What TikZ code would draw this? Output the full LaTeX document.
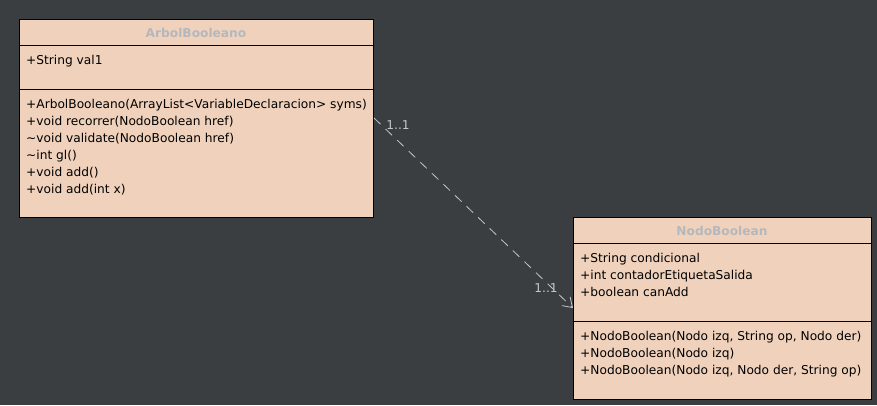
\documentclass[tikz,border=0pt]{standalone}
\usepackage{fontspec}
\setmainfont{DejaVu Sans}
\usepackage{tikz}
\usetikzlibrary{positioning, arrows.meta}
\usepackage{xcolor}
\definecolor{fondo}{HTML}{3B3E41}
\definecolor{relleno}{HTML}{F0D2BC}
\definecolor{gristitulo}{HTML}{B4B8BC}
\definecolor{grislinea}{HTML}{C4C6C8}

\begin{document}
\begin{tikzpicture}[x=1pt, y=1pt, font=\fontsize{12.2}{14}\selectfont,
    clase/.style={draw=black, fill=relleno, line width=1pt, anchor=north west, inner sep=0pt},
    titulo/.style={font=\fontsize{12.2}{14}\selectfont\bfseries, text=gristitulo, anchor=base},
    miembro/.style={anchor=base west, inner sep=0pt, text=black},
    etiqueta/.style={text=grislinea, anchor=base, inner sep=0pt}]
        % Fondo
        \fill[fondo] (0, 0) rectangle (877, -405);
        \useasboundingbox (0, 0) rectangle (877, -405);

        % Clase ArbolBooleano
        \node[clase, minimum width=354pt, minimum height=198pt] (arbol) at (19, -19) {};
        \draw[line width=0.8pt] (arbol.west |- 0, -45) -- (arbol.east |- 0, -45);
        \draw[line width=0.8pt] (arbol.west |- 0, -89) -- (arbol.east |- 0, -89);
        \node[titulo] (arbolT) at (196, -37) {ArbolBooleano};
        \node[miembro] (arbolA1) at (26, -64) {+String val1};
        \foreach \t [count=\i] in {{+ArbolBooleano(ArrayList<VariableDeclaracion> syms)},
            {+void recorrer(NodoBoolean href)}, {\textasciitilde void validate(NodoBoolean href)},
            {\textasciitilde int gl()}, {+void add()}, {+void add(int x)}} {
            \node[miembro] (arbolM\i) at (26, -108 - 17*\i + 17) {\t};
        }

        % Clase NodoBoolean
        \node[clase, minimum width=298pt, minimum height=182pt] (nodo) at (573, -217) {};
        \draw[line width=0.8pt] (nodo.west |- 0, -243) -- (nodo.east |- 0, -243);
        \draw[line width=0.8pt] (nodo.west |- 0, -321) -- (nodo.east |- 0, -321);
        \node[titulo] (nodoT) at (722, -235) {NodoBoolean};
        \foreach \t [count=\i] in {{+String condicional}, {+int contadorEtiquetaSalida},
            {+boolean canAdd}} {
            \node[miembro] (nodoA\i) at (580, -262 - 17*\i + 17) {\t};
        }
        \foreach \t [count=\i] in {{+NodoBoolean(Nodo izq, String op, Nodo der)},
            {+NodoBoolean(Nodo izq)}, {+NodoBoolean(Nodo izq, Nodo der, String op)}} {
            \node[miembro] (nodoM\i) at (580, -340 - 17*\i + 17) {\t};
        }

        % Asociacion
        \coordinate (origen) at (arbol.east |- 0, -118);
        \coordinate (destino) at (nodo.west |- 0, -308);
        \draw[grislinea, line width=0.8pt, dash pattern=on 9pt off 7pt,
            -{Straight Barb[length=9pt, width=12pt]}] (origen) -- (destino);
        \node[etiqueta] (multOrigen) at (398, -129) {1..1};
        \node[etiqueta] (multDestino) at (546, -292) {1..1};
    \end{tikzpicture}
\end{document}
